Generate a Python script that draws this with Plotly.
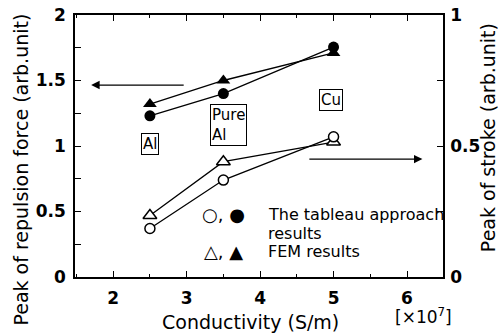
import plotly.graph_objects as go

conductivity = [2.5, 3.5, 5.0]
force_tableau = [1.23, 1.40, 1.755]
force_fem = [1.32, 1.50, 1.71]
stroke_tableau = [0.185, 0.37, 0.535]
stroke_fem = [0.235, 0.44, 0.515]

FONT = "DejaVu Sans"
fig = go.Figure()

fig.add_trace(go.Scatter(x=conductivity, y=force_fem, mode="lines+markers",
                         line=dict(color="black", width=1.3),
                         marker=dict(symbol="triangle-up", size=12, color="black"),
                         showlegend=False))
fig.add_trace(go.Scatter(x=conductivity, y=force_tableau, mode="lines+markers",
                         line=dict(color="black", width=1.3),
                         marker=dict(symbol="circle", size=11, color="black"),
                         showlegend=False))
fig.add_trace(go.Scatter(x=conductivity, y=stroke_fem, mode="lines+markers", yaxis="y2",
                         line=dict(color="black", width=1.3),
                         marker=dict(symbol="triangle-up", size=12, color="white",
                                     line=dict(color="black", width=1.5)),
                         showlegend=False))
fig.add_trace(go.Scatter(x=conductivity, y=stroke_tableau, mode="lines+markers", yaxis="y2",
                         line=dict(color="black", width=1.3),
                         marker=dict(symbol="circle", size=10, color="white",
                                     line=dict(color="black", width=1.5)),
                         showlegend=False))

tickfont = dict(family=FONT, size=17, color="black", weight="bold")
titlefont = dict(family=FONT, size=19, color="black")

fig.update_layout(
    width=498, height=336,
    margin=dict(l=75, r=55, t=15, b=59, autoexpand=False),
    paper_bgcolor="white", plot_bgcolor="white",
    xaxis=dict(range=[1.48, 6.49], dtick=1, tick0=0, ticks="inside", ticklen=6,
               tickwidth=1.2, tickcolor="black", showline=True, linecolor="black",
               linewidth=1.5, mirror="ticks", showgrid=False, zeroline=False,
               tickfont=tickfont, ticklabelstandoff=5, automargin=False,
               minor=dict(dtick=0.5, ticks="inside", ticklen=3, tickcolor="black")),
    yaxis=dict(range=[0, 2], dtick=0.5, ticks="inside", ticklen=6, tickwidth=1.2,
               tickcolor="black", showline=True, linecolor="black", linewidth=1.5,
               showgrid=False, zeroline=False, tickfont=tickfont, ticklabelstandoff=4,
               automargin=False,
               minor=dict(dtick=0.25, ticks="inside", ticklen=6, tickcolor="black")),
    yaxis2=dict(range=[0, 1], dtick=0.5, overlaying="y", side="right", ticks="inside",
                ticklen=6, tickwidth=1.2, tickcolor="black", showline=True,
                linecolor="black", linewidth=1.5, showgrid=False, zeroline=False,
                tickfont=tickfont, ticklabelstandoff=2, automargin=False,
                minor=dict(dtick=0.25, ticks="inside", ticklen=6, tickcolor="black")),
)

# axis titles
fig.add_annotation(x=0, y=0.41, xref="paper", yref="paper", xshift=-54,
                   text="Peak of repulsion force (arb.unit)", textangle=-90,
                   showarrow=False, font=titlefont, xanchor="center", yanchor="middle")
fig.add_annotation(x=1, y=0.53, xref="paper", yref="paper", xshift=45,
                   text="Peak of stroke (arb.unit)", textangle=-90,
                   showarrow=False, font=titlefont, xanchor="center", yanchor="middle")
fig.add_annotation(x=0.478, y=0, xref="paper", yref="paper", yshift=-45,
                   text="Conductivity (S/m)", showarrow=False, font=titlefont,
                   xanchor="center", yanchor="middle")
fig.add_annotation(x=0.946, y=0, xref="paper", yref="paper", yshift=-39,
                   text="[×10<sup>7</sup>]", showarrow=False,
                   font=dict(family=FONT, size=17, color="black"),
                   xanchor="center", yanchor="middle")

lab = dict(family=FONT, size=15, color="black")
fig.add_annotation(x=2.5, y=1.015, xref="x", yref="y", text="Al", showarrow=False,
                   font=lab, bordercolor="black", borderwidth=1, borderpad=1)
fig.add_annotation(x=3.575, y=1.16, xref="x", yref="y", text="Pure<br>Al", showarrow=False,
                   font=lab, bordercolor="black", borderwidth=1, borderpad=1, align="left")
fig.add_annotation(x=4.96, y=1.355, xref="x", yref="y", text="Cu", showarrow=False,
                   font=lab, bordercolor="black", borderwidth=1, borderpad=1)

# arrows
fig.add_annotation(x=1.70, y=1.465, ax=2.98, ay=1.465, xref="x", yref="y",
                   axref="x", ayref="y", text="", showarrow=True, arrowhead=2,
                   arrowsize=1.3, arrowwidth=1.3, arrowcolor="black")
fig.add_annotation(x=6.21, y=0.45, ax=4.65, ay=0.45, xref="x", yref="y2",
                   axref="x", ayref="y2", text="", showarrow=True, arrowhead=2,
                   arrowsize=1.3, arrowwidth=1.3, arrowcolor="black")

leg = dict(family=FONT, size=16, color="black")
sym = dict(family=FONT, size=18, color="black")
fig.add_annotation(x=3.5, y=0.24, xref="x", yref="y2", text="○, ●",
                   showarrow=False, font=sym, xanchor="center", borderpad=0)
fig.add_annotation(x=4.09, y=0.24, xref="x", yref="y2", text="The tableau approach",
                   showarrow=False, font=leg, xanchor="left", borderpad=0)
fig.add_annotation(x=4.09, y=0.165, xref="x", yref="y2", text="results",
                   showarrow=False, font=leg, xanchor="left", borderpad=0)
fig.add_annotation(x=3.5, y=0.098, xref="x", yref="y2", text="△, ▲",
                   showarrow=False, font=sym, xanchor="center", borderpad=0)
fig.add_annotation(x=4.09, y=0.098, xref="x", yref="y2", text="FEM results",
                   showarrow=False, font=leg, xanchor="left", borderpad=0)

fig.write_html("out.html")
